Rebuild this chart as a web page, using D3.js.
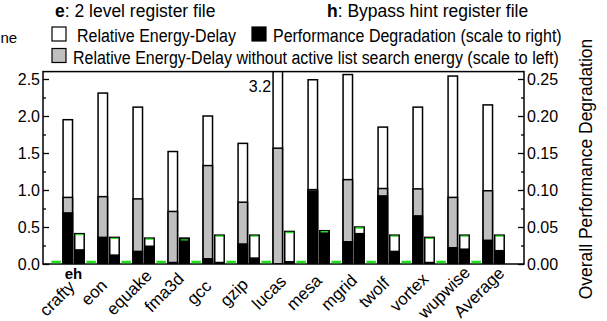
<!DOCTYPE html>
<meta charset="utf-8">
<style>
body{margin:0;background:#fff;}
svg{display:block;font-family:"Liberation Sans",Arial,sans-serif;}
</style>
<body>
<script src="https://d3js.org/d3.v7.min.js"></script>
<script>
// benchmarks, two configs each (e = 2 level register file, h = bypass hint register file)
var categories = ["crafty","eon","equake","fma3d","gcc","gzip","lucas","mesa","mgrid","twolf","vortex","wupwise","Average"];
// relative energy-delay (left scale)
var eED     = [1.95, 2.31, 2.12, 1.52, 2.00, 1.63, 3.20, 2.49, 2.56, 1.85, 2.12, 2.54, 2.15];
var eEDnoAL = [0.90, 0.91, 0.88, 0.71, 1.33, 0.835, 1.565, 1.005, 1.14, 1.02, 1.015, 0.90, 0.99];
var hED     = [0.41, 0.36, 0.35, 0.34, 0.39, 0.39, 0.44, 0.45, 0.50, 0.39, 0.36, 0.39, 0.39];
// performance degradation (right scale)
var ePerf   = [0.069, 0.036, 0.017, 0.002, 0.007, 0.027, 0.000, 0.0985, 0.030, 0.092, 0.065, 0.022, 0.032];
var hPerf   = [0.019, 0.012, 0.024, 0.035, 0.002, 0.008, 0.003, 0.043, 0.041, 0.017, 0.002, 0.020, 0.018];
var leftTicks  = [0, 0.5, 1.0, 1.5, 2.0, 2.5];
var rightTicks = [0, 0.05, 0.10, 0.15, 0.20, 0.25];

var W = 607, H = 321;
var x0 = 43, x1 = 524, yTop = 71.6, yBot = 264;
var green = "#22dd22", grey = "#bfbfbf";

var svg = d3.select("body").append("svg").attr("width", W).attr("height", H);

var x = d3.scaleBand().domain(categories).range([50.3, 505.3]);
var slot = d3.scaleBand().domain(["g","e","h"]).range([0, x.bandwidth()])
  .paddingInner(0.19).paddingOuter(0.095);
var yL = d3.scaleLinear().domain([0, 2.6]).range([yBot, yTop]);
var yR = d3.scaleLinear().domain([0, 0.26]).range([yBot, yTop]);

svg.append("clipPath").attr("id","plotclip").append("rect")
  .attr("x", x0).attr("y", yTop).attr("width", x1 - x0).attr("height", yBot - yTop);

var plot = svg.append("g").attr("clip-path","url(#plotclip)");

function bars(vals, scale, key, fill, cls){
  plot.selectAll("rect." + cls).data(vals).enter().append("rect")
    .attr("class", cls)
    .attr("x", function(d,i){ return x(categories[i]) + slot(key); })
    .attr("width", slot.bandwidth())
    .attr("y", function(d){ return scale(d); })
    .attr("height", function(d){ return yBot - scale(d); })
    .attr("fill", fill)
    .attr("stroke", "#000")
    .attr("stroke-width", 1.5);
}

// white behind, grey over it, black on top
bars(eED, yL, "e", "#fff", "ew");
bars(hED, yL, "h", "#fff", "hw");
bars(eEDnoAL, yL, "e", grey, "eg");
bars(ePerf, yR, "e", "#000", "ep");
bars(hPerf, yR, "h", "#000", "hp");

// green marks on top of h bars
plot.selectAll("line.gt").data(hED).enter().append("line")
  .attr("class","gt")
  .attr("x1", function(d,i){ return x(categories[i]) + slot("h") + 1; })
  .attr("x2", function(d,i){ return x(categories[i]) + slot("h") + slot.bandwidth() - 1; })
  .attr("y1", function(d){ return yL(d) + 1; }).attr("y2", function(d){ return yL(d) + 1; })
  .attr("stroke", green).attr("stroke-width", 1.4);

// frame
svg.append("rect").attr("x", x0).attr("y", yTop).attr("width", x1 - x0).attr("height", yBot - yTop)
  .attr("fill","none").attr("stroke","#000").attr("stroke-width",1.5);

// green spacer slot sitting on the baseline
svg.selectAll("line.gb").data(categories).enter().append("line")
  .attr("class","gb")
  .attr("x1", function(d){ return x(d) + slot("g"); })
  .attr("x2", function(d){ return x(d) + slot("g") + slot.bandwidth(); })
  .attr("y1", yBot - 2).attr("y2", yBot - 2)
  .attr("stroke", green).attr("stroke-width", 2.6);

// axes
var minorL = d3.range(0.25, 2.6, 0.5);
var minorR = d3.range(0.025, 0.26, 0.05);
svg.append("g").attr("transform","translate(" + x0 + ",0)")
  .call(d3.axisLeft(yL).tickValues(leftTicks).tickFormat(d3.format(".1f")).tickSize(-6).tickPadding(3));
svg.append("g").attr("transform","translate(" + x0 + ",0)")
  .call(d3.axisLeft(yL).tickValues(minorL).tickFormat("").tickSize(-3));
svg.append("g").attr("transform","translate(" + x1 + ",0)")
  .call(d3.axisRight(yR).tickValues(rightTicks).tickFormat(d3.format(".2f")).tickSize(-6).tickPadding(3));
svg.append("g").attr("transform","translate(" + x1 + ",0)")
  .call(d3.axisRight(yR).tickValues(minorR).tickFormat("").tickSize(-3));
svg.selectAll(".domain").remove();
svg.selectAll(".tick line").attr("stroke","#000").attr("stroke-width",1.3);
svg.selectAll(".tick text").attr("font-size",16).attr("font-family","Liberation Sans, Arial, sans-serif").attr("fill","#000");

// clipped value label
svg.append("text").attr("x", x("lucas") + slot("e") - 2).attr("y", 92)
  .attr("text-anchor","end").attr("font-size",16).text("3.2");

// category labels, centred diagonally under each pair (crafty pushed down under the "eh" key)
svg.selectAll("text.cat").data(categories).enter().append("text")
  .attr("class","cat")
  .attr("text-anchor","middle")
  .attr("font-size",17)
  .attr("transform", function(d,i){
    var cx = x(d) + slot("e") + slot.bandwidth() + (slot("h") - slot("e") - slot.bandwidth()) / 2;
    var dx = i === 0 ? -2 : 0, dy = i === 0 ? 6 : 0;
    return "translate(" + (cx - 10.5 + dx) + "," + (296.5 + dy) + ") rotate(-45)";
  })
  .text(function(d){ return d; });

svg.append("text").attr("x", x("crafty") + slot("e") + slot.bandwidth() + 1).attr("y", 279)
  .attr("text-anchor","middle").attr("font-size",15).attr("font-weight","bold").text("eh");

// right axis title
svg.append("text").attr("transform","translate(592,169) rotate(-90)")
  .attr("text-anchor","middle").attr("font-size",17.5).text("Overall Performance Degradation");

// titles
var t1 = svg.append("text").attr("transform","translate(55,17) scale(1,1.08)").attr("font-size",17.5);
t1.append("tspan").attr("font-weight","bold").text("e");
t1.append("tspan").text(": 2 level register file");
var t2 = svg.append("text").attr("transform","translate(327,17) scale(1,1.08)").attr("font-size",17.5);
t2.append("tspan").attr("font-weight","bold").text("h");
t2.append("tspan").text(": Bypass hint register file");

svg.append("text").attr("x",0.5).attr("y",43).attr("font-size",15).text("ne");

// legend
var legend = [
  {fill:"#fff", bx:52, by:27, tx:77, ty:42, label:"Relative Energy-Delay"},
  {fill:"#000", bx:252, by:27, tx:273, ty:42, label:"Performance Degradation (scale to right)"},
  {fill:grey, bx:52, by:48.5, tx:73, ty:64, label:"Relative Energy-Delay without active list search energy (scale to left)"}
];
var lg = svg.selectAll("g.lg").data(legend).enter().append("g").attr("class","lg");
lg.append("rect").attr("x",function(d){return d.bx;}).attr("y",function(d){return d.by;})
  .attr("width",14).attr("height",14).attr("fill",function(d){return d.fill;})
  .attr("stroke","#000").attr("stroke-width",1.2);
lg.append("text")
  .attr("transform",function(d){ return "translate(" + d.tx + "," + d.ty + ") scale(1,1.1)"; })
  .attr("font-size",16).text(function(d){return d.label;});
</script>
</body>
